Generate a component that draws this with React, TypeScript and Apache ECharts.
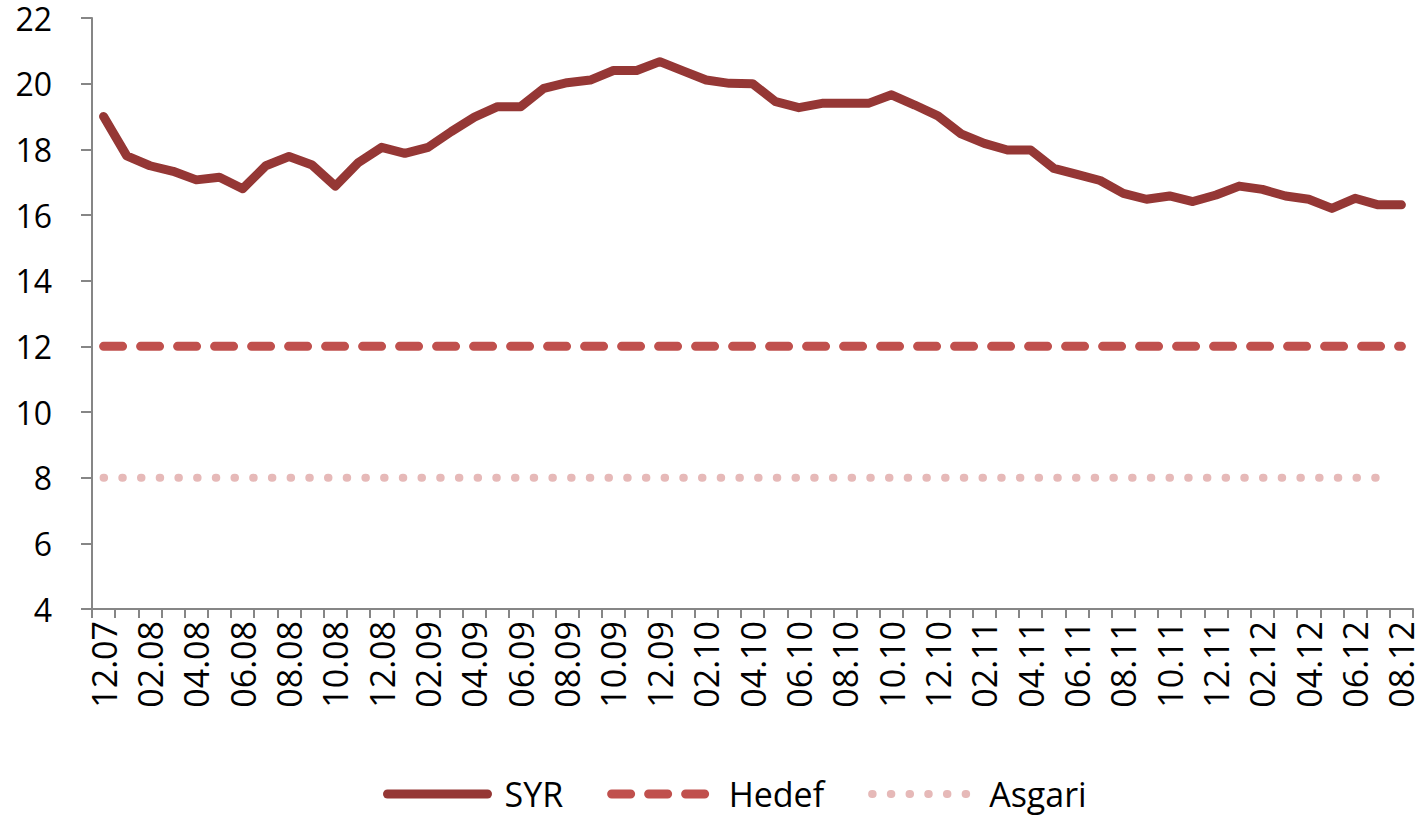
import React, { useEffect, useRef } from "react";
import * as echarts from "echarts";

const categories: string[] = [
  "12.07",
  "01.08", "02.08", "03.08", "04.08", "05.08", "06.08", "07.08", "08.08", "09.08", "10.08", "11.08", "12.08",
  "01.09", "02.09", "03.09", "04.09", "05.09", "06.09", "07.09", "08.09", "09.09", "10.09", "11.09", "12.09",
  "01.10", "02.10", "03.10", "04.10", "05.10", "06.10", "07.10", "08.10", "09.10", "10.10", "11.10", "12.10",
  "01.11", "02.11", "03.11", "04.11", "05.11", "06.11", "07.11", "08.11", "09.11", "10.11", "11.11", "12.11",
  "01.12", "02.12", "03.12", "04.12", "05.12", "06.12", "07.12", "08.12",
];

const syrValues: number[] = [
  19.0,
  17.8, 17.5, 17.33, 17.07, 17.15, 16.8, 17.5, 17.78, 17.52, 16.88, 17.6, 18.06,
  17.88, 18.06, 18.54, 18.98, 19.3, 19.3, 19.86, 20.03, 20.11, 20.4, 20.4, 20.67,
  20.39, 20.11, 20.01, 20.0, 19.45, 19.27, 19.4, 19.4, 19.4, 19.66, 19.35, 19.02,
  18.47, 18.18, 17.98, 17.98, 17.42, 17.24, 17.05, 16.66, 16.48, 16.58, 16.41, 16.61,
  16.88, 16.78, 16.58, 16.48, 16.2, 16.51, 16.31, 16.31,
];

const hedefValues: number[] = categories.map(() => 12);
const asgariValues: (number | null)[] = categories.map((_, i) => (i < categories.length - 1 ? 8 : null));

const yTicks = { min: 4, max: 22, interval: 2 };

const FONT = "'Open Sans', 'Liberation Sans', sans-serif";

export default function App() {
  const ref = useRef<HTMLDivElement>(null);

  useEffect(() => {
    document.body.style.margin = "0";
    if (!ref.current) return;
    const chart = echarts.init(ref.current, null, { renderer: "svg" });
    chart.setOption({
      animation: false,
      backgroundColor: "#ffffff",
      grid: { left: 92, right: 11, top: 18, bottom: 208, containLabel: false },
      legend: {
        top: 772,
        left: 378,
        itemWidth: 100,
        itemHeight: 10,
        itemGap: 44,
        itemStyle: { opacity: 0 },
        lineStyle: { width: "inherit", cap: "round" },
        textStyle: { fontFamily: FONT, fontSize: 34, color: "#000", padding: [0, 0, 0, 12] },
        data: ["SYR", "Hedef", "Asgari"],
      },
      xAxis: {
        type: "category",
        data: categories,
        boundaryGap: true,
        axisLine: { lineStyle: { color: "#868686", width: 2 } },
        axisTick: { show: true, interval: 0, length: 9, lineStyle: { color: "#868686", width: 2 } },
        axisLabel: {
          interval: 1,
          rotate: 90,
          margin: 12,
          fontFamily: FONT,
          fontSize: 34,
          color: "#000",
        },
        splitLine: { show: false },
      },
      yAxis: {
        type: "value",
        min: yTicks.min,
        max: yTicks.max,
        interval: yTicks.interval,
        axisLine: { show: true, lineStyle: { color: "#868686", width: 2 } },
        axisTick: { show: true, length: 11, lineStyle: { color: "#868686", width: 2 } },
        axisLabel: { fontFamily: FONT, fontSize: 32, color: "#000", margin: 40 },
        splitLine: { show: false },
      },
      series: [
        {
          name: "SYR",
          type: "line",
          data: syrValues,
          showSymbol: false,
          symbol: "none",
          color: "#953735",
          lineStyle: { color: "#953735", width: 9, cap: "round", join: "round" },
        },
        {
          name: "Hedef",
          type: "line",
          data: hedefValues,
          showSymbol: false,
          symbol: "none",
          color: "#C0504D",
          lineStyle: { color: "#C0504D", width: 9, type: [19, 18], cap: "round" },
        },
        {
          name: "Asgari",
          type: "line",
          data: asgariValues,
          showSymbol: false,
          symbol: "none",
          color: "#E6B9B8",
          lineStyle: { color: "#E6B9B8", width: 8, type: [0.5, 18.2], cap: "round" },
        },
      ],
    });
    return () => chart.dispose();
  }, []);

  return <div ref={ref} style={{ width: 1424, height: 817 }} />;
}
